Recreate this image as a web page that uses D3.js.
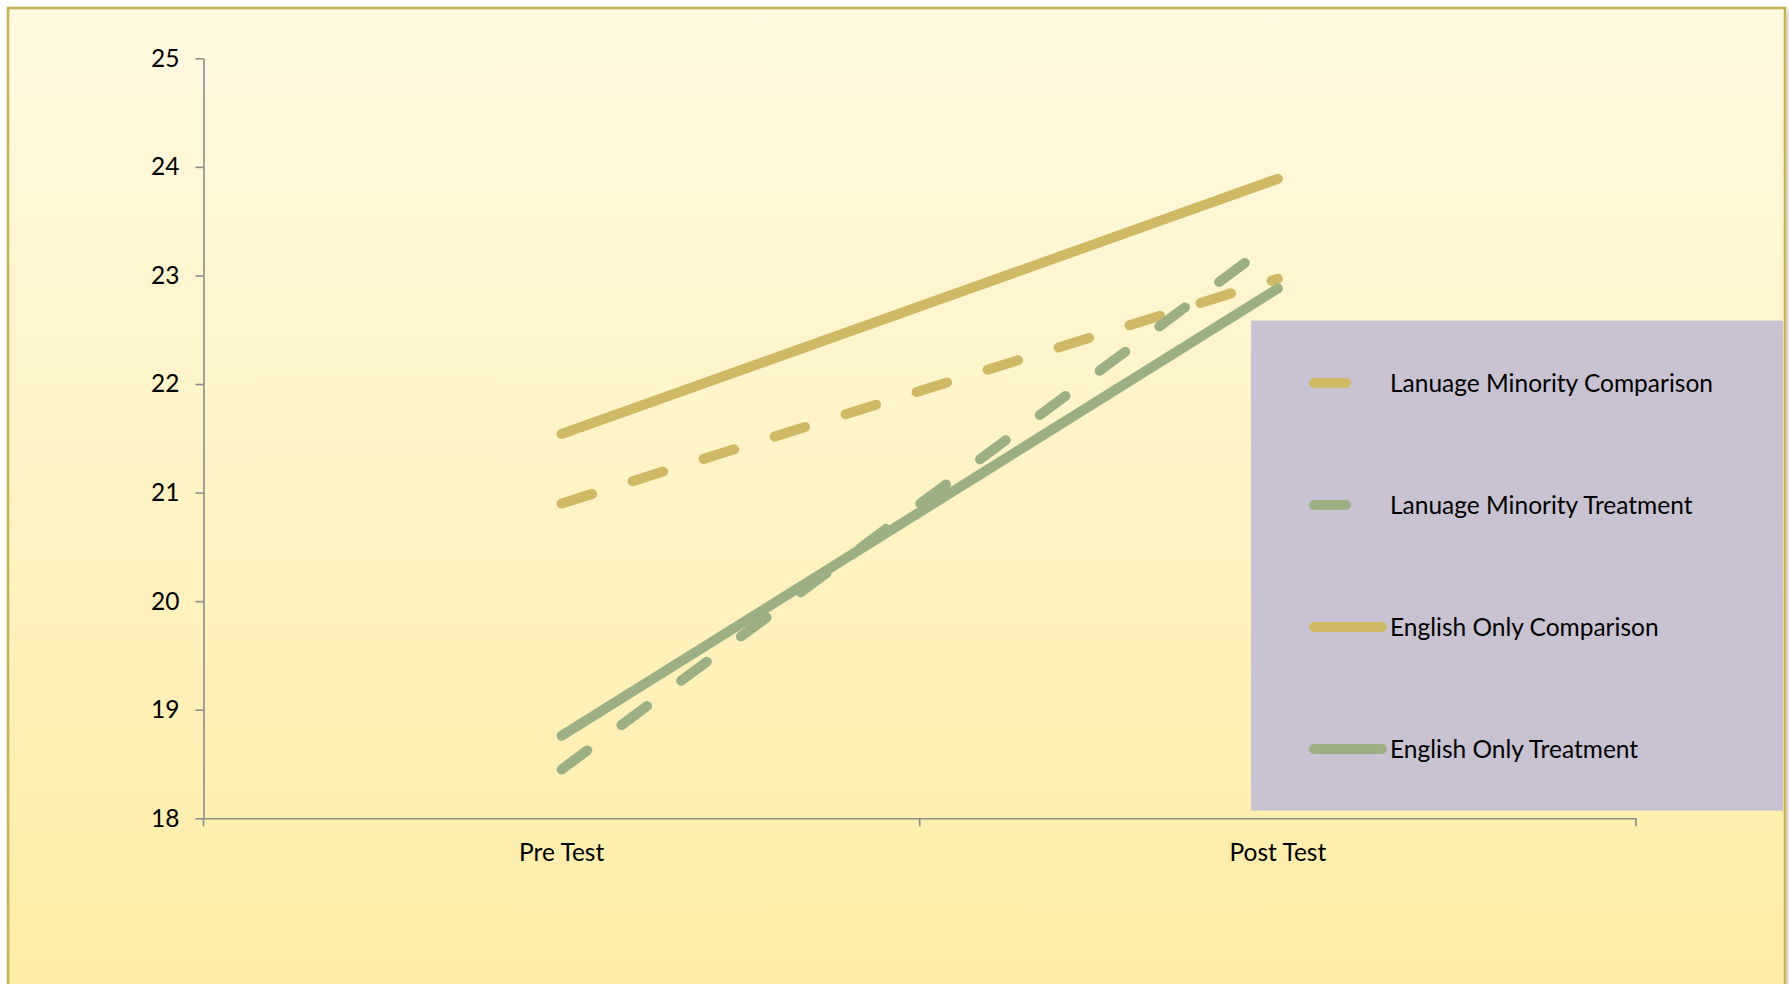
<!DOCTYPE html>
<html>
<head>
<meta charset="utf-8">
<script src="https://cdn.jsdelivr.net/npm/d3@7"></script>
<style>
  html, body { margin: 0; padding: 0; background: #ffffff; overflow: hidden; }
  svg { display: block; font-family: Lato, "Open Sans", sans-serif; }
</style>
</head>
<body>
<svg id="chart" width="1789" height="984"></svg>
<script>
// Test occasions along the x axis
const categories = ["Pre Test", "Post Test"];

// Mean scores for each group at each occasion
const lmComparison = [20.90, 22.97];   // Lanuage Minority Comparison
const lmTreatment  = [18.45, 23.34];   // Lanuage Minority Treatment
const eoComparison = [21.54, 23.89];   // English Only Comparison
const eoTreatment  = [18.76, 22.88];   // English Only Treatment

const seriesNames = [
  "Lanuage Minority Comparison",
  "Lanuage Minority Treatment",
  "English Only Comparison",
  "English Only Treatment"
];

const yTicks = [18, 19, 20, 21, 22, 23, 24, 25];

const GOLD = "#cfb964";
const GREEN = "#9cb084";
const DASH = "32,42.4";

const series = [
  { name: seriesNames[0], values: lmComparison, color: GOLD,  dash: DASH },
  { name: seriesNames[1], values: lmTreatment,  color: GREEN, dash: DASH },
  { name: seriesNames[2], values: eoComparison, color: GOLD,  dash: null },
  { name: seriesNames[3], values: eoTreatment,  color: GREEN, dash: null }
];

const plot = { left: 203.5, right: 1636, top: 58.3, bottom: 818.3 };

const svg = d3.select("#chart");
const defs = svg.append("defs");

const grad = defs.append("linearGradient")
  .attr("id", "bg").attr("x1", 0).attr("y1", 0).attr("x2", 0).attr("y2", 1);
grad.append("stop").attr("offset", "0%").attr("stop-color", "#fff9e1");
grad.append("stop").attr("offset", "100%").attr("stop-color", "#feeca2");

const shadow = defs.append("filter").attr("id", "shadow")
  .attr("x", "-2%").attr("y", "-2%").attr("width", "104%").attr("height", "104%");
shadow.append("feDropShadow").attr("dx", 3).attr("dy", 3).attr("stdDeviation", 2)
  .attr("flood-color", "#000").attr("flood-opacity", 0.18);

// Panel background with gold frame; it runs past the bottom edge
svg.append("rect")
  .attr("x", 8).attr("y", 8).attr("width", 1777).attr("height", 1040)
  .attr("fill", "url(#bg)")
  .attr("stroke", "#c8b258").attr("stroke-width", 2.6)
  .attr("filter", "url(#shadow)");

const x = d3.scaleBand().domain(categories).range([plot.left, plot.right]).padding(0);
const y = d3.scaleLinear().domain([18, 25]).range([plot.bottom, plot.top]);
const cx = c => x(c) + x.bandwidth() / 2;

const AXIS = "#8c8c8c";

// Y axis
const yAxis = svg.append("g")
  .attr("transform", `translate(${plot.left},0)`)
  .call(d3.axisLeft(y).tickValues(yTicks).tickSize(8).tickSizeOuter(0).tickPadding(16)
    .tickFormat(d3.format("d")));
yAxis.selectAll("path, line").attr("stroke", AXIS).attr("stroke-width", 1.6);
yAxis.selectAll("text").attr("fill", "#000").attr("font-size", 24.5)
  .attr("font-family", "Lato, sans-serif");

// X axis: labels at band centres, tick marks at band edges
const xAxis = svg.append("g")
  .attr("transform", `translate(0,${plot.bottom})`)
  .call(d3.axisBottom(x).tickSize(0).tickSizeOuter(0).tickPadding(25));
xAxis.select(".domain").attr("stroke", AXIS).attr("stroke-width", 1.6);
xAxis.selectAll("text").attr("fill", "#000").attr("font-size", 24.5)
  .attr("font-family", "Lato, sans-serif");
const edges = categories.map(c => x(c)).concat([x(categories[categories.length - 1]) + x.bandwidth()]);
xAxis.selectAll("line.edge").data(edges).enter().append("line")
  .attr("class", "edge")
  .attr("x1", d => d).attr("x2", d => d).attr("y1", 0).attr("y2", 8)
  .attr("stroke", AXIS).attr("stroke-width", 1.6);

// Series lines
const line = d3.line().x((d, i) => cx(categories[i])).y(d => y(d));
svg.append("g").selectAll("path").data(series).enter().append("path")
  .attr("d", d => line(d.values))
  .attr("fill", "none")
  .attr("stroke", d => d.color)
  .attr("stroke-width", 10)
  .attr("stroke-linecap", "round")
  .attr("stroke-dasharray", d => d.dash);

// Legend
const legend = { x: 1251, y: 320.6, w: 532, h: 490 };
svg.append("rect")
  .attr("x", legend.x).attr("y", legend.y).attr("width", legend.w).attr("height", legend.h)
  .attr("fill", "#c8c2d2");

const itemY = d3.scalePoint().domain(seriesNames).range([383, 749]);
const items = svg.append("g").selectAll("g").data(series).enter().append("g")
  .attr("transform", d => `translate(0,${itemY(d.name)})`);
items.append("line")
  .attr("x1", 1314).attr("x2", 1382).attr("y1", 0).attr("y2", 0)
  .attr("stroke", d => d.color).attr("stroke-width", 10)
  .attr("stroke-linecap", "round")
  .attr("stroke-dasharray", d => d.dash);
items.append("text")
  .attr("x", 1390).attr("y", 0).attr("dy", "0.35em")
  .attr("font-size", 24.5).attr("fill", "#000")
  .text(d => d.name);
</script>
</body>
</html>
